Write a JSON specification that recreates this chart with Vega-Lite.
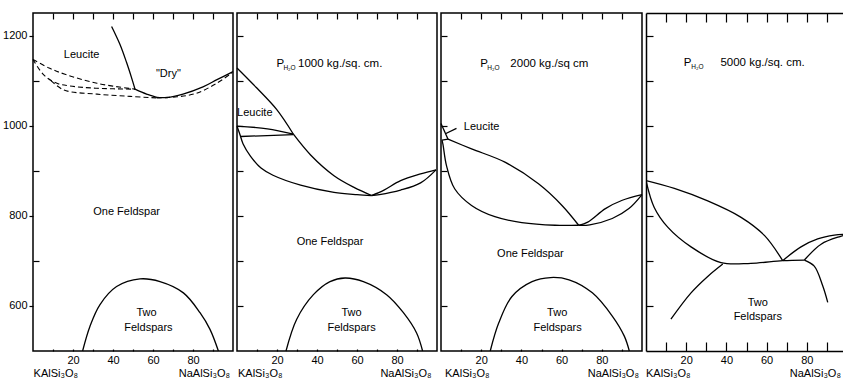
{
  "$schema": "https://vega.github.io/schema/vega-lite/v6.json",
  "padding": {"left": 1, "top": 12, "right": 0, "bottom": 0},
  "spacing": 4,
  "bounds": "flush",
  "config": {
    "view": {"stroke": "black", "strokeWidth": 1.5},
    "axis": {"grid": false, "domain": false, "tickColor": "black", "labelColor": "black", "labelFont": "Liberation Sans", "labelFontSize": 11, "tickWidth": 1.2, "domainColor": "black", "domainWidth": 1.5, "gridColor": "black", "gridWidth": 1.2, "gridOpacity": 1},
    "text": {"font": "Liberation Sans", "fontSize": 11, "color": "black"},
    "line": {"color": "black", "strokeWidth": 1.3}
  },
  "datasets": {
    "curves": [
      {"p":1,"c":"a","i":0,"x":39.3,"T":1220},{"p":1,"c":"a","i":1,"x":43.5,"T":1180},{"p":1,"c":"a","i":2,"x":46.8,"T":1140},{"p":1,"c":"a","i":3,"x":49.3,"T":1106},{"p":1,"c":"a","i":4,"x":51,"T":1081},
      {"p":1,"c":"b","i":0,"x":51,"T":1081},{"p":1,"c":"b","i":1,"x":56.8,"T":1070},{"p":1,"c":"b","i":2,"x":62,"T":1063},{"p":1,"c":"b","i":3,"x":67,"T":1062.5},{"p":1,"c":"b","i":4,"x":75,"T":1070},{"p":1,"c":"b","i":5,"x":85,"T":1086},{"p":1,"c":"b","i":6,"x":92,"T":1102},{"p":1,"c":"b","i":7,"x":100,"T":1120},
      {"p":1,"c":"s","i":0,"x":24.8,"T":500},{"p":1,"c":"s","i":1,"x":28.5,"T":555},{"p":1,"c":"s","i":2,"x":33.5,"T":603},{"p":1,"c":"s","i":3,"x":41.8,"T":643},{"p":1,"c":"s","i":4,"x":53.5,"T":660},{"p":1,"c":"s","i":5,"x":63.5,"T":654},{"p":1,"c":"s","i":6,"x":75.2,"T":629},{"p":1,"c":"s","i":7,"x":83.5,"T":585},{"p":1,"c":"s","i":8,"x":88.5,"T":548},{"p":1,"c":"s","i":9,"x":92.7,"T":500},

      {"p":2,"c":"a","i":0,"x":0,"T":1128},{"p":2,"c":"a","i":1,"x":9.8,"T":1084},{"p":2,"c":"a","i":2,"x":19.8,"T":1036},{"p":2,"c":"a","i":3,"x":28.2,"T":981},
      {"p":2,"c":"a2","i":0,"x":28.2,"T":981},{"p":2,"c":"a2","i":1,"x":36.8,"T":935},{"p":2,"c":"a2","i":2,"x":48.5,"T":889},{"p":2,"c":"a2","i":3,"x":58.5,"T":863},{"p":2,"c":"a2","i":4,"x":67.3,"T":845},
      {"p":2,"c":"b","i":0,"x":0,"T":999},{"p":2,"c":"b","i":1,"x":15.2,"T":993},{"p":2,"c":"b","i":2,"x":28.2,"T":981},
      {"p":2,"c":"c","i":0,"x":1.8,"T":976},{"p":2,"c":"c","i":1,"x":28.2,"T":980},
      {"p":2,"c":"d","i":0,"x":0,"T":999},{"p":2,"c":"d","i":1,"x":1.5,"T":980},{"p":2,"c":"d","i":2,"x":3,"T":960},{"p":2,"c":"d","i":3,"x":6.8,"T":932},{"p":2,"c":"d","i":4,"x":12,"T":906},{"p":2,"c":"d","i":5,"x":18,"T":890},{"p":2,"c":"d","i":6,"x":31.8,"T":868},{"p":2,"c":"d","i":7,"x":48.5,"T":852},{"p":2,"c":"d","i":8,"x":60,"T":847},{"p":2,"c":"d","i":9,"x":67.3,"T":845},
      {"p":2,"c":"e","i":0,"x":67.3,"T":845},{"p":2,"c":"e","i":1,"x":73.5,"T":857},{"p":2,"c":"e","i":2,"x":81.8,"T":878},{"p":2,"c":"e","i":3,"x":91.8,"T":893},{"p":2,"c":"e","i":4,"x":99.5,"T":902},
      {"p":2,"c":"f","i":0,"x":67.3,"T":845},{"p":2,"c":"f","i":1,"x":71.2,"T":847},{"p":2,"c":"f","i":2,"x":81.8,"T":857},{"p":2,"c":"f","i":3,"x":91.8,"T":873},{"p":2,"c":"f","i":4,"x":99.5,"T":902},
      {"p":2,"c":"s","i":0,"x":24.5,"T":500},{"p":2,"c":"s","i":1,"x":29.8,"T":570},{"p":2,"c":"s","i":2,"x":38.2,"T":625},{"p":2,"c":"s","i":3,"x":46.5,"T":654},{"p":2,"c":"s","i":4,"x":54,"T":662},{"p":2,"c":"s","i":5,"x":63.2,"T":654},{"p":2,"c":"s","i":6,"x":74.8,"T":625},{"p":2,"c":"s","i":7,"x":83.2,"T":585},{"p":2,"c":"s","i":8,"x":89.8,"T":540},{"p":2,"c":"s","i":9,"x":92.8,"T":500},

      {"p":3,"c":"a","i":0,"x":0,"T":1005},{"p":3,"c":"a","i":1,"x":3.5,"T":970},
      {"p":3,"c":"b","i":0,"x":0.5,"T":968},{"p":3,"c":"b","i":1,"x":3.5,"T":970},
      {"p":3,"c":"c","i":0,"x":3.5,"T":970},{"p":3,"c":"c","i":1,"x":15.2,"T":948.5},{"p":3,"c":"c","i":2,"x":31.8,"T":919},{"p":3,"c":"c","i":3,"x":48.5,"T":871},{"p":3,"c":"c","i":4,"x":60.2,"T":823},{"p":3,"c":"c","i":5,"x":68.5,"T":779},
      {"p":3,"c":"d","i":0,"x":0.5,"T":968},{"p":3,"c":"d","i":1,"x":1,"T":958},{"p":3,"c":"d","i":2,"x":2.7,"T":912},{"p":3,"c":"d","i":3,"x":6.8,"T":860},{"p":3,"c":"d","i":4,"x":15.2,"T":823},{"p":3,"c":"d","i":5,"x":26.8,"T":798},{"p":3,"c":"d","i":6,"x":40.2,"T":785},{"p":3,"c":"d","i":7,"x":56.8,"T":779},{"p":3,"c":"d","i":8,"x":68.5,"T":779},
      {"p":3,"c":"e","i":0,"x":68.5,"T":779},{"p":3,"c":"e","i":1,"x":73,"T":786},{"p":3,"c":"e","i":2,"x":81.8,"T":816},{"p":3,"c":"e","i":3,"x":90.2,"T":834.5},{"p":3,"c":"e","i":4,"x":100,"T":847},
      {"p":3,"c":"f","i":0,"x":68.5,"T":779},{"p":3,"c":"f","i":1,"x":74,"T":780},{"p":3,"c":"f","i":2,"x":85.2,"T":794},{"p":3,"c":"f","i":3,"x":93.5,"T":816},{"p":3,"c":"f","i":4,"x":100,"T":847},
      {"p":3,"c":"g","i":0,"x":7.7,"T":994},{"p":3,"c":"g","i":1,"x":2.2,"T":982},
      {"p":3,"c":"s","i":0,"x":24.5,"T":500},{"p":3,"c":"s","i":1,"x":28.7,"T":562},{"p":3,"c":"s","i":2,"x":35.3,"T":621},{"p":3,"c":"s","i":3,"x":45.3,"T":654},{"p":3,"c":"s","i":4,"x":54.5,"T":663},{"p":3,"c":"s","i":5,"x":63.7,"T":658},{"p":3,"c":"s","i":6,"x":75.3,"T":629},{"p":3,"c":"s","i":7,"x":85.3,"T":577},{"p":3,"c":"s","i":8,"x":91.2,"T":533},{"p":3,"c":"s","i":9,"x":93.7,"T":500},

      {"p":4,"c":"a","i":0,"x":0,"T":878},{"p":4,"c":"a","i":1,"x":14.1,"T":860.7},{"p":4,"c":"a","i":2,"x":30.7,"T":833},{"p":4,"c":"a","i":3,"x":47.3,"T":796.6},{"p":4,"c":"a","i":4,"x":58.9,"T":756.5},{"p":4,"c":"a","i":5,"x":68,"T":700.5},
      {"p":4,"c":"b","i":0,"x":0,"T":878},{"p":4,"c":"b","i":1,"x":4.1,"T":818.5},{"p":4,"c":"b","i":2,"x":10.8,"T":774.8},{"p":4,"c":"b","i":3,"x":22.4,"T":731},{"p":4,"c":"b","i":4,"x":37.3,"T":696},{"p":4,"c":"b","i":5,"x":52.2,"T":694.6},{"p":4,"c":"b","i":6,"x":68,"T":700.5},{"p":4,"c":"b","i":7,"x":78.8,"T":701.8},
      {"p":4,"c":"c","i":0,"x":68,"T":700.5},{"p":4,"c":"c","i":1,"x":77.1,"T":731},{"p":4,"c":"c","i":2,"x":85.4,"T":748.6},{"p":4,"c":"c","i":3,"x":93.7,"T":757},{"p":4,"c":"c","i":4,"x":100,"T":759},
      {"p":4,"c":"d","i":0,"x":78.8,"T":701.8},{"p":4,"c":"d","i":1,"x":87.1,"T":737},{"p":4,"c":"d","i":2,"x":96.5,"T":754},{"p":4,"c":"d","i":3,"x":100,"T":758},
      {"p":4,"c":"e","i":0,"x":78.8,"T":701.8},{"p":4,"c":"e","i":1,"x":83.7,"T":688.3},{"p":4,"c":"e","i":2,"x":87.9,"T":644.6},{"p":4,"c":"e","i":3,"x":90.4,"T":608},
      {"p":4,"c":"f","i":0,"x":12.4,"T":570.7},{"p":4,"c":"f","i":1,"x":22.4,"T":629},{"p":4,"c":"f","i":2,"x":30.7,"T":665.5},{"p":4,"c":"f","i":3,"x":38.2,"T":693}
    ],
    "dashed": [
      {"c":"d1","i":0,"x":0,"T":1147},{"c":"d1","i":1,"x":8,"T":1128},{"c":"d1","i":2,"x":16,"T":1114},{"c":"d1","i":3,"x":32,"T":1094},{"c":"d1","i":4,"x":51,"T":1081},
      {"c":"d2","i":0,"x":0,"T":1147},{"c":"d2","i":1,"x":5.5,"T":1112},{"c":"d2","i":2,"x":12,"T":1094},{"c":"d2","i":3,"x":18.5,"T":1088},{"c":"d2","i":4,"x":32,"T":1083},{"c":"d2","i":5,"x":51,"T":1081},
      {"c":"d3","i":0,"x":9,"T":1100},{"c":"d3","i":1,"x":15.5,"T":1079},{"c":"d3","i":2,"x":32,"T":1070},{"c":"d3","i":3,"x":48.5,"T":1065},{"c":"d3","i":4,"x":62,"T":1061.5},
      {"c":"d4","i":0,"x":62,"T":1061.5},{"c":"d4","i":1,"x":72,"T":1064},{"c":"d4","i":2,"x":81.8,"T":1072},{"c":"d4","i":3,"x":91.8,"T":1094},{"c":"d4","i":4,"x":99.5,"T":1117}
    ],
    "labels": [
      {"p":1,"x":24.3,"T":1156,"text":"Leucite"},{"p":1,"x":67.7,"T":1114,"text":"\"Dry\""},{"p":1,"x":46.8,"T":809,"text":"One Feldspar"},{"p":1,"x":56.8,"T":585,"text":"Two"},{"p":1,"x":57.7,"T":551,"text":"Feldspars"},
      {"p":2,"x":8.9,"T":1029,"text":"Leucite"},{"p":2,"x":46.5,"T":742,"text":"One Feldspar"},{"p":2,"x":57.3,"T":585,"text":"Two"},{"p":2,"x":57.3,"T":551,"text":"Feldspars"},
      {"p":3,"x":20.2,"T":998,"text":"Leucite"},{"p":3,"x":44.5,"T":716,"text":"One Feldspar"},{"p":3,"x":57.8,"T":585,"text":"Two"},{"p":3,"x":58,"T":551,"text":"Feldspars"},
      {"p":4,"x":55.6,"T":607,"text":"Two"},{"p":4,"x":55.6,"T":575,"text":"Feldspars"}
    ],
    "titles": [
      {"p":2,"x":19.8,"T":1130,"text":"P"},{"p":2,"x":30.5,"T":1130,"text":"1000 kg./sq. cm."},
      {"p":3,"x":19.5,"T":1130,"text":"P"},{"p":3,"x":34.5,"T":1130,"text":"2000 kg./sq cm"},
      {"p":4,"x":18.8,"T":1132,"text":"P"},{"p":4,"x":37,"T":1132,"text":"5000 kg./sq. cm."}
    ],
    "subs": [
      {"p":2,"x":23.2,"T":1124,"text":"H₂O"},{"p":3,"x":23,"T":1124,"text":"H₂O"},{"p":4,"x":22.5,"T":1126,"text":"H₂O"}
    ],
    "ends": [
      {"p":1,"x":0.3,"T":442,"text":"KAlSi₃O₈"},{"p":1,"x":98.5,"T":442,"text":"NaAlSi₃O₈"},
      {"p":2,"x":0.5,"T":442,"text":"KAlSi₃O₈"},{"p":2,"x":97.3,"T":442,"text":"NaAlSi₃O₈"},
      {"p":3,"x":2,"T":442,"text":"KAlSi₃O₈"},{"p":3,"x":98.5,"T":442,"text":"NaAlSi₃O₈"},
      {"p":4,"x":0,"T":442,"text":"KAlSi₃O₈"},{"p":4,"x":97,"T":442,"text":"NaAlSi₃O₈"}
    ]
  },
  "hconcat": [
    {
      "width": 200, "height": 338,
      "encoding": {
        "x": {"field": "x", "type": "quantitative", "scale": {"domain": [0, 100], "nice": false, "zero": false}, "axis": {"title": null, "values": [10, 20, 30, 40, 50, 60, 70, 80, 90], "labelExpr": "datum.value % 20 == 0 ? datum.label : ''", "ticks": false, "labelPadding": 3, "grid": true, "gridDash": [6, 330, 2, 0]}},
        "y": {"field": "T", "type": "quantitative", "scale": {"domain": [500, 1250], "nice": false, "zero": false}, "axis": {"title": null, "values": [600, 700, 800, 900, 1000, 1100, 1200], "format": "d", "labelExpr": "datum.value % 200 == 0 ? datum.label : ''", "tickSize": 4, "tickOpacity": {"condition": {"test": "datum.value % 200 == 0", "value": 1}, "value": 0}, "labelPadding": 2, "grid": true, "gridDash": [6, 1000], "gridOpacity": {"condition": {"test": "datum.value % 200 == 0", "value": 0}, "value": 1}}}
      },
      "layer": [
        {"data": {"name": "curves"}, "transform": [{"filter": "datum.p == 1"}], "mark": {"type": "line", "interpolate": "catmull-rom"}, "encoding": {"detail": {"field": "c"}, "order": {"field": "i"}}},
        {"data": {"name": "dashed"}, "mark": {"type": "line", "interpolate": "catmull-rom", "strokeDash": [5, 3], "strokeWidth": 1.1}, "encoding": {"detail": {"field": "c"}, "order": {"field": "i"}}},
        {"data": {"name": "labels"}, "transform": [{"filter": "datum.p == 1"}], "mark": {"type": "text", "align": "center", "baseline": "middle"}, "encoding": {"text": {"field": "text"}}},
        {"data": {"name": "ends"}, "transform": [{"filter": "datum.p == 1 && datum.x < 50"}], "mark": {"type": "text", "align": "left", "baseline": "alphabetic"}, "encoding": {"text": {"field": "text"}}},
        {"data": {"name": "ends"}, "transform": [{"filter": "datum.p == 1 && datum.x >= 50"}], "mark": {"type": "text", "align": "right", "baseline": "alphabetic"}, "encoding": {"text": {"field": "text"}}}
      ]
    },
    {
      "width": 200, "height": 338,
      "encoding": {
        "x": {"field": "x", "type": "quantitative", "scale": {"domain": [0, 100], "nice": false, "zero": false}, "axis": {"title": null, "values": [10, 20, 30, 40, 50, 60, 70, 80, 90], "labelExpr": "datum.value % 20 == 0 ? datum.label : ''", "ticks": false, "labelPadding": 3, "grid": true, "gridDash": [6, 330, 2, 0]}},
        "y": {"field": "T", "type": "quantitative", "scale": {"domain": [500, 1250], "nice": false, "zero": false}, "axis": {"title": null, "values": [600, 700, 800, 900, 1000, 1100, 1200], "labels": false, "ticks": false, "grid": true, "gridDash": [6, 1000]}}
      },
      "layer": [
        {"data": {"name": "curves"}, "transform": [{"filter": "datum.p == 2"}], "mark": {"type": "line", "interpolate": "catmull-rom"}, "encoding": {"detail": {"field": "c"}, "order": {"field": "i"}}},
        {"data": {"name": "labels"}, "transform": [{"filter": "datum.p == 2"}], "mark": {"type": "text", "align": "center", "baseline": "middle"}, "encoding": {"text": {"field": "text"}}},
        {"data": {"name": "titles"}, "transform": [{"filter": "datum.p == 2"}], "mark": {"type": "text", "align": "left", "baseline": "alphabetic", "fontSize": 11.5}, "encoding": {"text": {"field": "text"}}},
        {"data": {"name": "subs"}, "transform": [{"filter": "datum.p == 2"}], "mark": {"type": "text", "align": "left", "baseline": "alphabetic", "fontSize": 6.5}, "encoding": {"text": {"field": "text"}}},
        {"data": {"name": "ends"}, "transform": [{"filter": "datum.p == 2 && datum.x < 50"}], "mark": {"type": "text", "align": "left", "baseline": "alphabetic"}, "encoding": {"text": {"field": "text"}}},
        {"data": {"name": "ends"}, "transform": [{"filter": "datum.p == 2 && datum.x >= 50"}], "mark": {"type": "text", "align": "right", "baseline": "alphabetic"}, "encoding": {"text": {"field": "text"}}}
      ]
    },
    {
      "width": 201, "height": 338,
      "encoding": {
        "x": {"field": "x", "type": "quantitative", "scale": {"domain": [0, 100], "nice": false, "zero": false}, "axis": {"title": null, "values": [10, 20, 30, 40, 50, 60, 70, 80, 90], "labelExpr": "datum.value % 20 == 0 ? datum.label : ''", "ticks": false, "labelPadding": 3, "grid": true, "gridDash": [6, 330, 2, 0]}},
        "y": {"field": "T", "type": "quantitative", "scale": {"domain": [500, 1250], "nice": false, "zero": false}, "axis": {"title": null, "values": [600, 700, 800, 900, 1000, 1100, 1200], "labels": false, "ticks": false, "grid": true, "gridDash": [6, 1000]}}
      },
      "layer": [
        {"data": {"name": "curves"}, "transform": [{"filter": "datum.p == 3"}], "mark": {"type": "line", "interpolate": "catmull-rom"}, "encoding": {"detail": {"field": "c"}, "order": {"field": "i"}}},
        {"data": {"name": "labels"}, "transform": [{"filter": "datum.p == 3"}], "mark": {"type": "text", "align": "center", "baseline": "middle"}, "encoding": {"text": {"field": "text"}}},
        {"data": {"name": "titles"}, "transform": [{"filter": "datum.p == 3"}], "mark": {"type": "text", "align": "left", "baseline": "alphabetic", "fontSize": 11.5}, "encoding": {"text": {"field": "text"}}},
        {"data": {"name": "subs"}, "transform": [{"filter": "datum.p == 3"}], "mark": {"type": "text", "align": "left", "baseline": "alphabetic", "fontSize": 6.5}, "encoding": {"text": {"field": "text"}}},
        {"data": {"name": "ends"}, "transform": [{"filter": "datum.p == 3 && datum.x < 50"}], "mark": {"type": "text", "align": "left", "baseline": "alphabetic"}, "encoding": {"text": {"field": "text"}}},
        {"data": {"name": "ends"}, "transform": [{"filter": "datum.p == 3 && datum.x >= 50"}], "mark": {"type": "text", "align": "right", "baseline": "alphabetic"}, "encoding": {"text": {"field": "text"}}}
      ]
    },
    {
      "width": 197, "height": 338,
      "view": {"stroke": null},
      "encoding": {
        "x": {"field": "x", "type": "quantitative", "scale": {"domain": [0, 98], "nice": false, "zero": false}, "axis": {"title": null, "values": [10, 20, 30, 40, 50, 60, 70, 80, 90], "labelExpr": "datum.value % 20 == 0 ? datum.label : ''", "ticks": false, "labelPadding": 3, "grid": true, "gridDash": [9, 320, 9, 0], "domain": true}},
        "y": {"field": "T", "type": "quantitative", "scale": {"domain": [500, 1250], "nice": false, "zero": false}, "axis": {"title": null, "values": [600, 700, 800, 900, 1000, 1100, 1200, 1250], "labels": false, "ticks": false, "grid": true, "gridDash": {"condition": {"test": "datum.value == 1250", "value": [400, 0]}, "value": [7, 1000]}, "gridWidth": {"condition": {"test": "datum.value == 1250", "value": 1.5}, "value": 1.2}, "domain": true}}
      },
      "layer": [
        {"data": {"name": "curves"}, "transform": [{"filter": "datum.p == 4"}], "mark": {"type": "line", "interpolate": "catmull-rom", "clip": true}, "encoding": {"detail": {"field": "c"}, "order": {"field": "i"}}},
        {"data": {"name": "labels"}, "transform": [{"filter": "datum.p == 4"}], "mark": {"type": "text", "align": "center", "baseline": "middle"}, "encoding": {"text": {"field": "text"}}},
        {"data": {"name": "titles"}, "transform": [{"filter": "datum.p == 4"}], "mark": {"type": "text", "align": "left", "baseline": "alphabetic", "fontSize": 11.5}, "encoding": {"text": {"field": "text"}}},
        {"data": {"name": "subs"}, "transform": [{"filter": "datum.p == 4"}], "mark": {"type": "text", "align": "left", "baseline": "alphabetic", "fontSize": 6.5}, "encoding": {"text": {"field": "text"}}},
        {"data": {"name": "ends"}, "transform": [{"filter": "datum.p == 4 && datum.x < 50"}], "mark": {"type": "text", "align": "left", "baseline": "alphabetic"}, "encoding": {"text": {"field": "text"}}},
        {"data": {"name": "ends"}, "transform": [{"filter": "datum.p == 4 && datum.x >= 50"}], "mark": {"type": "text", "align": "right", "baseline": "alphabetic"}, "encoding": {"text": {"field": "text"}}}
      ]
    }
  ]
}
